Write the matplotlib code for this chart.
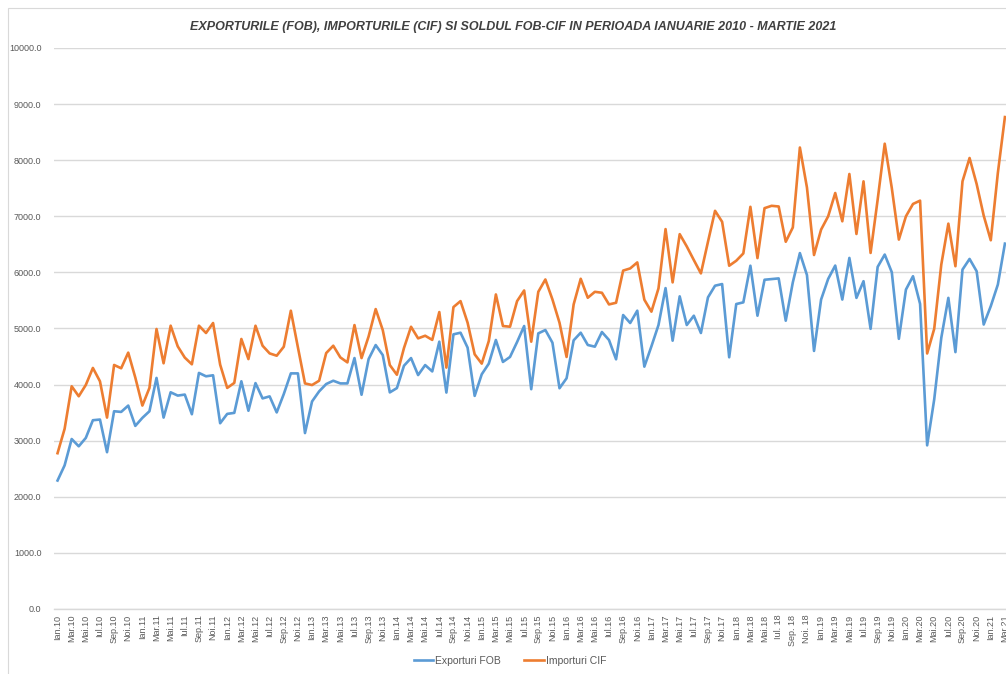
import numpy as np
import matplotlib.pyplot as plt
from matplotlib.patches import Rectangle

# Monthly values, Jan 2010 - Mar 2021 (mil. euro)
exporturi_fob = [
    2290, 2560, 3030, 2900, 3050, 3365, 3377, 2795, 3525, 3513, 3626, 3264,
    3407, 3525, 4119, 3412, 3863, 3804, 3822, 3472, 4208, 4148, 4166, 3311,
    3478, 3496, 4059, 3534, 4027, 3754, 3790, 3504, 3831, 4200, 4200, 3136,
    3700, 3879, 4010, 4069, 4021, 4021, 4473, 3819, 4455, 4705, 4526, 3861,
    3938, 4336, 4473, 4170, 4348, 4235, 4765, 3858, 4896, 4925, 4659, 3799,
    4184, 4374, 4795, 4404, 4493, 4759, 5044, 3918, 4913, 4973, 4747, 3935,
    4113, 4789, 4925, 4706, 4676, 4937, 4795, 4451, 5240, 5098, 5318, 4320,
    4682, 5062, 5720, 4783, 5573, 5062, 5228, 4920, 5555, 5763, 5792, 4487,
    5436, 5466, 6119, 5228, 5869, 5881, 5893, 5139, 5822, 6344, 5953, 4600,
    5516, 5884, 6122, 5516, 6258, 5546, 5843, 4994, 6098, 6318, 6003, 4816,
    5694, 5932, 5439, 2917, 3736, 4834, 5546, 4579, 6050, 6240, 6021, 5071,
    5398, 5783, 6513,
]
importuri_cif = [
    2777, 3211, 3970, 3792, 3994, 4297, 4059, 3412, 4350, 4291, 4570, 4125,
    3626, 3941, 4991, 4380, 5050, 4682, 4481, 4362, 5050, 4920, 5098, 4356,
    3941, 4030, 4813, 4455, 5049, 4693, 4556, 4515, 4675, 5317, 4663, 4021,
    3992, 4069, 4562, 4693, 4485, 4396, 5061, 4473, 4859, 5346, 4972, 4348,
    4176, 4651, 5031, 4824, 4871, 4797, 5293, 4303, 5382, 5488, 5103, 4540,
    4374, 4777, 5607, 5044, 5032, 5488, 5678, 4765, 5654, 5874, 5518, 5103,
    4493, 5429, 5886, 5548, 5654, 5637, 5429, 5459, 6032, 6071, 6178, 5513,
    5300, 5715, 6772, 5822, 6682, 6463, 6220, 5982, 6546, 7098, 6902, 6119,
    6208, 6338, 7169, 6255, 7145, 7187, 7175, 6546, 6801, 8226, 7513, 6310,
    6763, 7000, 7415, 6911, 7754, 6685, 7623, 6347, 7297, 8294, 7504, 6585,
    7000, 7220, 7279, 4555, 4994, 6139, 6869, 6110, 7623, 8039, 7576, 7012,
    6573, 7772, 8769,
]

# every second month is labelled on the axis
etichete_luni = [
    'Ian.10', 'Mar.10', 'Mai.10', 'Iul.10', 'Sep.10', 'Noi.10',
    'Ian.11', 'Mar.11', 'Mai.11', 'Iul.11', 'Sep.11', 'Noi.11',
    'Ian.12', 'Mar.12', 'Mai.12', 'Iul.12', 'Sep.12', 'Noi.12',
    'Ian.13', 'Mar.13', 'Mai.13', 'Iul.13', 'Sep.13', 'Noi.13',
    'Ian.14', 'Mar.14', 'Mai.14', 'Iul.14', 'Sep.14', 'Noi.14',
    'Ian.15', 'Mar.15', 'Mai.15', 'Iul.15', 'Sep.15', 'Noi.15',
    'Ian.16', 'Mar.16', 'Mai.16', 'Iul.16', 'Sep.16', 'Noi.16',
    'Ian.17', 'Mar.17', 'Mai.17', 'Iul.17', 'Sep.17', 'Noi.17',
    'Ian.18', 'Mar.18', 'Mai.18', 'Iul. 18', 'Sep. 18', 'Noi. 18',
    'Ian.19', 'Mar.19', 'Mai.19', 'Iul.19', 'Sep.19', 'Noi.19',
    'Ian.20', 'Mar.20', 'Mai.20', 'Iul.20', 'Sep.20', 'Noi.20',
    'Ian.21', 'Mar.21',
]

titlu = 'EXPORTURILE (FOB), IMPORTURILE (CIF) SI SOLDUL FOB-CIF IN PERIOADA IANUARIE 2010 - MARTIE 2021'

plt.rcParams['font.family'] = ['Liberation Sans', 'DejaVu Sans']

W, H = 1006, 674
fig = plt.figure(figsize=(W / 100, H / 100), dpi=100)
ax = fig.add_axes([54 / W, 1 - 609 / H, (W - 54) / W, (609 - 48) / H])

x = np.arange(len(exporturi_fob))
ax.plot(x, exporturi_fob, color='#5B9BD5', linewidth=1.9, label='Exporturi FOB', solid_joinstyle='round')
ax.plot(x, importuri_cif, color='#ED7D31', linewidth=1.9, label='Importuri CIF', solid_joinstyle='round')

ax.set_xlim(-0.5, -0.5 + (W - 54) / 7.07)
ax.set_ylim(0, 10000)
ax.set_yticks(np.arange(0, 10001, 1000))
ax.set_yticklabels(['{:.1f}'.format(v) for v in np.arange(0, 10001, 1000)])
ax.set_xticks(x[::2])
ax.set_xticklabels(etichete_luni, rotation=90, va='top')

ax.grid(axis='y', color='#D9D9D9', linewidth=1.0)
ax.axhline(0, color='#D9D9D9', linewidth=1.0, clip_on=False, zorder=0)
ax.set_axisbelow(True)
for s in ax.spines.values():
    s.set_visible(False)
ax.tick_params(axis='both', length=0, labelsize=6.5, colors='#595959')
ax.tick_params(axis='y', pad=9)
ax.tick_params(axis='x', pad=4)

fig.text(513 / W, 1 - 27 / H, titlu, ha='center', va='center', fontsize=9,
         fontweight='bold', fontstyle='italic', color='#404040')

fig.legend(loc='center', bbox_to_anchor=(510 / W, 1 - 661 / H), ncol=2, frameon=False,
           fontsize=7.5, handlelength=1.9, columnspacing=2.2, labelcolor='#595959',
           handletextpad=0.2)

# chart area border (only top and left visible in the crop)
fig.patches.append(Rectangle((8 / W, -0.1), 1.2, 1 - 8 / H + 0.1, transform=fig.transFigure,
                             fill=False, edgecolor='#D9D9D9', linewidth=0.8))

fig.savefig('out.png', dpi=100)
